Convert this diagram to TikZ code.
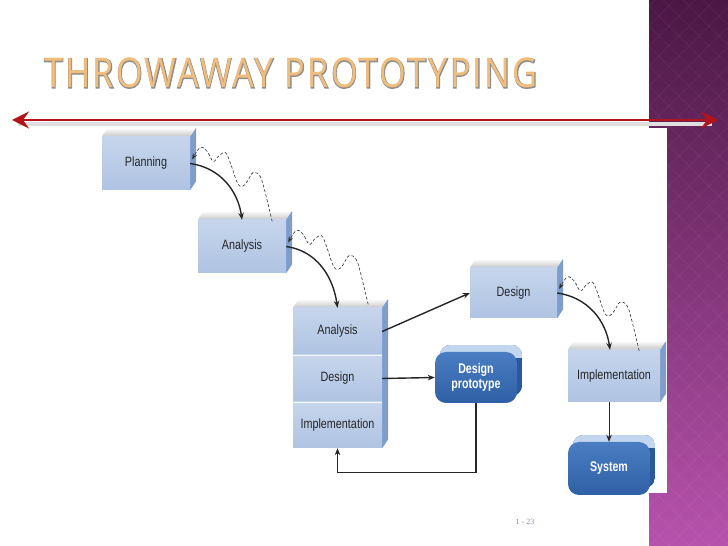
\documentclass[tikz,border=0pt]{standalone}
\usepackage{fontspec}
\setmainfont{Liberation Sans}
\newfontfamily\boxfont[FakeStretch=0.8]{Liberation Sans}
\newfontfamily\boxfontB[FakeStretch=0.76]{Liberation Sans}
\newfontfamily\titlefont[LetterSpace=5.5,FakeStretch=0.835]{Open Sans}
\newfontfamily\titlefontbold[LetterSpace=5.5,FakeStretch=0.835,FakeBold=2.5]{Open Sans}
\newfontfamily\numfont{Liberation Serif}
\usetikzlibrary{arrows.meta,calc}
\definecolor{boxtop}{HTML}{C6D5EC}
\definecolor{boxbot}{HTML}{AFC3E2}
\definecolor{sideblue}{HTML}{7F9CCB}
\definecolor{darktop}{HTML}{4A7DC2}
\definecolor{darkbot}{HTML}{2F60A6}
\definecolor{protolight}{HTML}{C3D6EF}
\definecolor{protodark}{HTML}{2A589A}
\definecolor{purpletop}{HTML}{4A1743}
\definecolor{purplebot}{HTML}{B752AC}
\definecolor{redline}{HTML}{B3141B}
\definecolor{titlefill}{HTML}{F0BD7C}
\definecolor{titleline}{HTML}{8E8E8E}
\definecolor{numcol}{HTML}{9C7FA3}
\pgfdeclarelayer{base}
\pgfdeclarelayer{bg}
\pgfsetlayers{base,bg,main}
\newcommand\wave[1]{\draw[wavy, shift={(#1.east)}] plot[smooth, tension=0.6] coordinates {(82,-58) (75,-29) (70,-13) (63,-9) (57,-18) (52,-23) (47,-19) (40,1) (35,11) (28,7) (23,2) (17,12) (10,16) (2,4)};}
\newcommand\faces[2]{%
  \shade[topface] (#1.north west) -- ++(6,9) -- ($(#1.north east)+(6,9)$) -- (#1.north east) -- cycle;
  \fill[sideface] (#1.north east) -- ++(6,9) -- ($(#2.south east)+(6,9)$) -- (#2.south east) -- cycle;}
\newcommand\roundback[1]{%
  \begin{scope}
    \clip[rounded corners=11pt] ($(#1.south west)+(5,7)$) rectangle ($(#1.north east)+(5,7)$);
    \fill[protodark] ($(#1.south west)+(5,7)$) rectangle ($(#1.north east)+(5,7)$);
    \fill[protolight] ($(#1.north west)+(0,-6)$) rectangle ($(#1.north east)+(5,7)$);
  \end{scope}}
\begin{document}
\begin{tikzpicture}[x=1pt,y=1pt,
  front/.style={draw=none, top color=boxtop, bottom color=boxbot, minimum width=88pt, minimum height=53pt, inner sep=0pt, font=\boxfont\fontsize{13.5}{15}\selectfont, text=black!85},
  dark/.style={draw=none, top color=darktop, bottom color=darkbot, rounded corners=11pt, minimum width=82pt, minimum height=51pt, inner sep=0pt, align=center, font=\boxfontB\bfseries\fontsize{14}{15.5}\selectfont, text=white},
  arr/.style={-{Stealth[length=7pt,width=5.5pt]}, line width=1.4pt, black!85},
  wavy/.style={dash pattern=on 3pt off 2pt, line width=0.6pt, -{Stealth[length=6pt,width=4.5pt]}, black!80},
  topface/.style={top color=white, bottom color=gray!45},
  sideface/.style={fill=sideblue},
]
\useasboundingbox (0,0) rectangle (728,546);
\begin{pgfonlayer}{base}
  \fill[white] (0,0) rectangle (728,546);
  \shade[top color=purpletop, bottom color=purplebot] (649,0) rectangle (728,546);
  \begin{scope}
    \clip (649,0) rectangle (728,546);
    \foreach \k in {-6,...,30} {
      \draw[white, opacity=0.045, line width=0.8pt] (649,\k*20) -- ++(80,80);
      \draw[white, opacity=0.045, line width=0.8pt] (649,\k*20) -- ++(80,-80);
    }
  \end{scope}
  \fill[white] (600,53) rectangle (667,418);
\end{pgfonlayer}

% title
\node[anchor=base west, inner sep=0pt, text=titleline, font=\titlefontbold\fontsize{41}{41}\selectfont] (titleshadow) at (44,458) {THROWAWAY PROTOTYPING};
\node[anchor=base west, inner sep=0pt, text=titlefill, font=\titlefont\fontsize{41}{41}\selectfont] (title) at (44,458) {THROWAWAY PROTOTYPING};

% red double arrow
\coordinate (la) at (12,426);
\coordinate (ra) at (718,426);
\draw[gray!25, line width=4pt] ($(la)+(6,-4)$) -- ($(ra)+(-6,-4)$);
\draw[redline, line width=2.4pt, {Stealth[length=17pt,width=17pt,inset=6pt]}-{Stealth[length=17pt,width=17pt,inset=6pt]}] (la) -- (ra);

% boxes
\node[front] (plan) at (146,382.5) {Planning};
\node[front] (ana1) at (242,299.5) {Analysis};
\node[front, minimum width=89pt, minimum height=47pt] (sa) at (337.5,214.5) {Analysis};
\node[front, minimum width=89pt, minimum height=47pt] (sd) at (337.5,167.5) {Design};
\node[front, minimum width=89pt, minimum height=46pt] (si) at (337.5,121) {Implementation};
\node[front, minimum width=87pt, minimum height=50pt] (des) at (513.5,253) {Design};
\node[front, minimum width=92pt, minimum height=52pt] (impl) at (614,170) {Implementation};
\node[dark] (proto) at (476,168.5) {Design\\prototype};
\node[dark, minimum height=53pt] (sys) at (609,77.5) {System};

\draw[white!85!boxtop, line width=1pt] (sa.south west) -- (sa.south east);
\draw[white!85!boxtop, line width=1pt] (sd.south west) -- (sd.south east);

\begin{pgfonlayer}{bg}
  \faces{plan}{plan}
  \faces{ana1}{ana1}
  \faces{sa}{si}
  \faces{des}{des}
  \faces{impl}{impl}
  \roundback{proto}
  \roundback{sys}
\end{pgfonlayer}

% connectors
\draw[arr] (plan.east) to[out=-8,in=98] (ana1.north);
\wave{plan}
\draw[arr] (ana1.east) to[out=-8,in=98] (sa.north);
\wave{ana1}
\draw[arr] (des.east) to[out=-8,in=98] ($(impl.north)+(-4,0)$);
\wave{des}
\draw[arr] (sa.east) -- (des.west);
\draw[arr] (sd.east) -- (proto.west);
\coordinate (ret) at ($(si.south)+(0,-24)$);
\draw[arr, line width=1.1pt] (proto.south) |- (ret) -- (si.south);
\draw[arr, line width=0.9pt] (impl.south -| sys.north) -- (sys.north);

\node[text=numcol, font=\numfont\fontsize{8}{9}\selectfont] (pagenum) at (525,24) {1 - 23};
\end{tikzpicture}
\end{document}
